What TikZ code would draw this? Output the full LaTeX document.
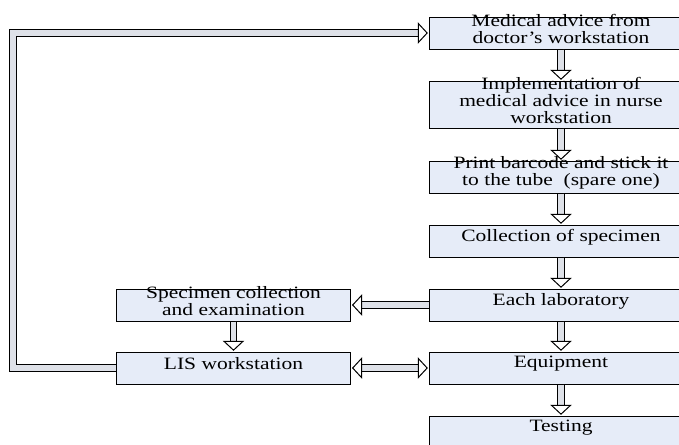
\documentclass[tikz,border=0pt]{standalone}
\usepackage{fontspec}
\setmainfont{Liberation Serif}[FakeStretch=1.24]
\usetikzlibrary{arrows.meta,positioning}
\definecolor{boxfill}{RGB}{230,236,248}
\definecolor{shaftfill}{RGB}{222,225,232}

\begin{document}
\begin{tikzpicture}[
    x=0.75pt, y=-0.75pt,
    font=\fontsize{13pt}{12.8pt}\selectfont,
    block/.style={rectangle, draw, fill=boxfill, line width=0.75pt, minimum width=198pt, minimum height=24pt, inner sep=0pt},
    sideblock/.style={block, minimum width=176pt},
    boxtext/.style={align=center, yshift=3pt, inner sep=0pt},
    line/.style={draw, line width=0.75pt, double=shaftfill, double distance=4.2pt, shorten >=0.5pt,
        -{Triangle[open, fill=white, width=16pt, length=7.5pt, line width=0.75pt]}},
    twoway/.style={line, {Triangle[open, fill=white, width=16pt, length=7.5pt, line width=0.75pt]}-{Triangle[open, fill=white, width=16pt, length=7.5pt, line width=0.75pt]}, shorten <=0.5pt},
    loopline/.style={line}
    ]
    \useasboundingbox (0,0) rectangle (679,444);
    \clip (0,0) rectangle (679,444);

    % right column
    \node [block, label={[boxtext]center:Medical advice from\\doctor's workstation}] (doctor) at (561,33) {};
    \node [block, minimum height=35.25pt, label={[boxtext]center:Implementation of\\medical advice in nurse\\workstation}] (nurse) at (561,104.5) {};
    \node [block, label={[boxtext]center:Print barcode and stick it\\to the tube~ (spare one)}] (barcode) at (561,177) {};
    \node [block, label={[boxtext]center:Collection of specimen}] (collect) at (561,241) {};
    \node [block, label={[boxtext]center:Each laboratory}] (lab) at (561,305) {};
    \node [block, label={[boxtext]center:Equipment}] (equip) at (561,368) {};
    \node [block, label={[boxtext]center:Testing}] (testing) at (561,432) {};

    % left column
    \node [sideblock, label={[boxtext]center:Specimen collection\\and examination}] (exam) at (233.5,305) {};
    \node [sideblock, label={[boxtext]center:LIS workstation}] (lis) at (233.5,368) {};

    \coordinate (loopx) at (13,0);

    \path [line] (doctor) -- (nurse);
    \path [line] (nurse) -- (barcode);
    \path [line] (barcode) -- (collect);
    \path [line] (collect) -- (lab);
    \path [line] (lab) -- (equip);
    \path [line] (equip) -- (testing);
    \path [line] (lab) -- (exam);
    \path [line] (exam) -- (lis);
    \path [twoway] (lis) -- (equip);
    \path [loopline] (lis.west) -- (lis.west -| loopx) |- (doctor.west);
  \end{tikzpicture}
\end{document}
